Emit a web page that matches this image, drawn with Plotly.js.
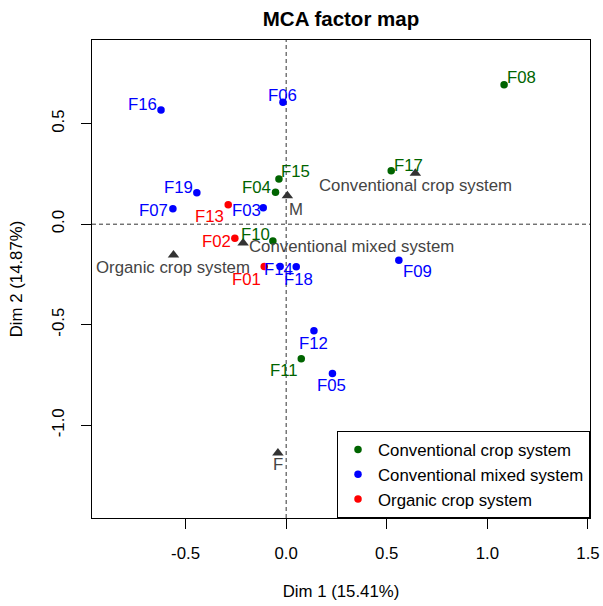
<!DOCTYPE html>
<html><head><meta charset="utf-8">
<script src="https://cdn.plot.ly/plotly-3.0.1.min.js"></script>
<style>html,body{margin:0;padding:0;background:#fff}#chart{width:603px;height:606px}</style>
</head><body><div id="chart"></div>
<script>
// ---- data ----
const groupNames = ["Conventional crop system", "Conventional mixed system", "Organic crop system"];

const cropNames = ["F04", "F08", "F10", "F11", "F15", "F17"];
const cropDim1  = [-0.053, 1.083, -0.066, 0.075, -0.036, 0.522];
const cropDim2  = [0.159, 0.694, -0.083, -0.669, 0.225, 0.266];

const mixedNames = ["F03", "F05", "F06", "F07", "F09", "F12", "F14", "F16", "F18", "F19"];
const mixedDim1  = [-0.114, 0.230, -0.016, -0.563, 0.560, 0.138, -0.030, -0.622, 0.050, -0.444];
const mixedDim2  = [0.082, -0.742, 0.606, 0.077, -0.179, -0.530, -0.210, 0.568, -0.212, 0.157];

const organicNames = ["F01", "F02", "F13"];
const organicDim1  = [-0.109, -0.255, -0.288];
const organicDim2  = [-0.210, -0.070, 0.097];

const catNames = ["Conventional crop system", "Conventional mixed system", "Organic crop system", "F", "M"];
const catDim1  = [0.642, -0.214, -0.560, -0.041, 0.006];
const catDim2  = [0.253, -0.094, -0.153, -1.138, 0.141];

const xTickVals = [-0.5, 0, 0.5, 1, 1.5];
const xTickText = ["-0.5", "0.0", "0.5", "1.0", "1.5"];
const yTickVals = [-1, -0.5, 0, 0.5];
const yTickText = ["-1.0", "-0.5", "0.0", "0.5"];

// ---- styling ----
const FONT = "Liberation Sans, Arial, sans-serif";
const FS = 16.8;
const groupColors = ["#006400", "#0000FF", "#FF0000"];
const catColor = "#333333";
const catTextColor = "#444444";

// label placement nudges in pixels [dx, dy(up)], mimicking R's autoLab placement
const nudge = {
  F16:[-18.5,6.7], F06:[0,7.6], F15:[16.6,8.3], F04:[-19.5,6.3], F19:[-18.7,6.7],
  F07:[-19.4,-0.6], F13:[-18.5,-10.3], F03:[-16.7,-1.6], F02:[-18.5,-1.7], F10:[-17.4,7.7],
  F01:[-17.8,-12.3], F14:[-1.7,-1.6], F18:[2,-11.3], F12:[-0.7,-11.3], F11:[-17.7,-10.3],
  F05:[-0.6,-11.3], F08:[17.7,8], F17:[17,6.7], F09:[18.6,-10.4],
  "M":[9,-12.3], "F":[-0.4,-10.7], "Conventional crop system":[-0.3,-10.7],
  "Conventional mixed system":[3.7,-2.4], "Organic crop system":[0,-11]
};
const leftAnchored = {"Conventional mixed system": true};
const glyphFix = -1.2;

const sets = [
  {names: cropNames, x: cropDim1, y: cropDim2},
  {names: mixedNames, x: mixedDim1, y: mixedDim2},
  {names: organicNames, x: organicDim1, y: organicDim2}
];

const traces = [];
const annotations = [];

// category (supplementary) points
traces.push({
  type: "scatter", mode: "markers", x: catDim1, y: catDim2, text: catNames,
  showlegend: false, hoverinfo: "text",
  marker: {symbol: "triangle-up", size: 10, color: catColor}
});
catNames.forEach((n, i) => {
  const d = nudge[n];
  annotations.push({
    x: catDim1[i], y: catDim2[i], xref: "x", yref: "y", text: n, showarrow: false,
    xanchor: leftAnchored[n] ? "left" : "center", yanchor: "middle",
    xshift: d[0], yshift: d[1] + glyphFix,
    font: {family: FONT, size: FS, color: catTextColor}
  });
});

sets.forEach((s, g) => {
  traces.push({
    type: "scatter", mode: "markers", name: groupNames[g],
    x: s.x, y: s.y, text: s.names, hoverinfo: "text",
    marker: {symbol: "circle", size: 7.5, color: groupColors[g]}
  });
  s.names.forEach((n, i) => {
    const d = nudge[n];
    annotations.push({
      x: s.x[i], y: s.y[i], xref: "x", yref: "y", text: n, showarrow: false,
      xanchor: "center", yanchor: "middle",
      xshift: d[0], yshift: d[1] + glyphFix,
      font: {family: FONT, size: FS, color: groupColors[g]}
    });
  });
});

const dashStyle = {color: "#333333", width: 1, dash: "4px,3px"};
const shapes = [
  {type: "line", xref: "x", yref: "paper", x0: 0, x1: 0, y0: 0, y1: 1, line: dashStyle, layer: "below"},
  {type: "line", xref: "paper", yref: "y", x0: 0, x1: 1, y0: 0, y1: 0, line: dashStyle, layer: "below"}
];

const axisCommon = {
  showgrid: false, zeroline: false, showline: true, mirror: true,
  linecolor: "#000", linewidth: 1, ticks: "outside", ticklen: 10, tickwidth: 1, tickcolor: "#000",
  tickfont: {family: FONT, size: FS, color: "#000"}, ticklabelstandoff: 10
};

const layout = {
  width: 603, height: 606,
  margin: {l: 92, r: 13, t: 40, b: 88, pad: 0},
  paper_bgcolor: "#fff", plot_bgcolor: "#fff",
  font: {family: FONT, size: FS, color: "#000"},
  title: {text: "<b>MCA factor map</b>", x: 0.5, xref: "paper", xanchor: "center",
          y: 1 - 19/606, yref: "container", yanchor: "middle",
          font: {family: FONT, size: 20.5, color: "#000"}},
  xaxis: Object.assign({}, axisCommon, {
    range: [-0.965, 1.510], tickmode: "array", tickvals: xTickVals, ticktext: xTickText,
    title: {text: "Dim 1 (15.41%)", standoff: 23, font: {family: FONT, size: FS, color: "#000"}}
  }),
  yaxis: Object.assign({}, axisCommon, {
    range: [-1.461, 0.916], tickmode: "array", tickvals: yTickVals, ticktext: yTickText,
    tickangle: -90,
    title: {text: "Dim 2 (14.87%)", standoff: 22, font: {family: FONT, size: FS, color: "#000"}}
  }),
  legend: {x: 1, xanchor: "right", y: 0, yanchor: "bottom", bgcolor: "#fff",
           bordercolor: "#000", borderwidth: 1, font: {family: FONT, size: FS, color: "#000"},
           itemsizing: "trace"},
  shapes: shapes,
  annotations: annotations,
  showlegend: true
};

Plotly.newPlot("chart", traces, layout, {displayModeBar: false, staticPlot: true});
</script>
</body></html>
